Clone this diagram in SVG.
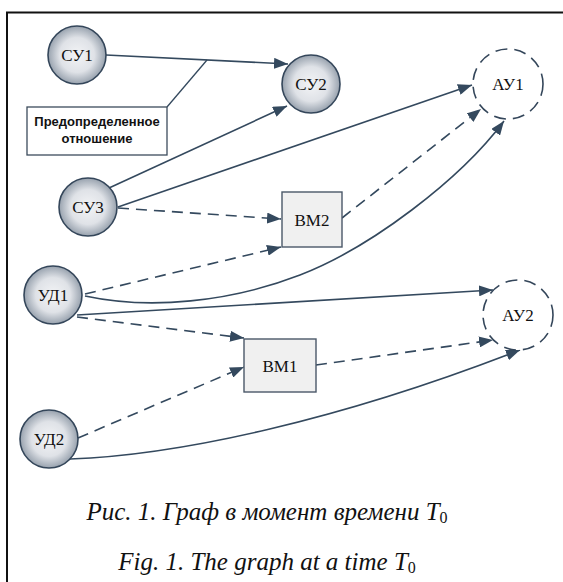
<svg xmlns="http://www.w3.org/2000/svg" width="563" height="582" viewBox="0 0 563 582">
<defs>
  <radialGradient id="g" cx="50%" cy="50%" r="50%">
    <stop offset="0" stop-color="#f3f4f6"/>
    <stop offset="0.6" stop-color="#dfe2e7"/>
    <stop offset="1" stop-color="#98a2ae"/>
  </radialGradient>
  <marker id="ah" markerUnits="userSpaceOnUse" markerWidth="14" markerHeight="11" refX="14" refY="5.5" orient="auto">
    <path d="M0,0 L14,5.5 L0,11 z" fill="#34495e"/>
  </marker>
</defs>
<style>
  .s { fill: url(#g); stroke: #34465a; stroke-width: 1.6; }
  .d { fill: #ffffff; stroke: #34465a; stroke-width: 1.6; stroke-dasharray: 12 7; }
  .r { fill: #f0f0f0; stroke: #4a5868; stroke-width: 1.4; }
  .t { font-family: 'Liberation Serif', 'Times New Roman', 'DejaVu Serif', serif; font-size: 17px; fill: #111; text-anchor: middle; }
  .e { fill: none; stroke: #34495e; stroke-width: 1.6; marker-end: url(#ah); }
  .ed { fill: none; stroke: #34495e; stroke-width: 1.6; stroke-dasharray: 11 7; marker-end: url(#ah); }
  .cap { font-family: 'Liberation Serif', 'Times New Roman', 'DejaVu Serif', serif; font-style: italic; font-size: 25px; fill: #111; text-anchor: middle; }
  .sub { font-style: normal; font-size: 16px; }
  .lb { font-family: 'Liberation Sans', Arial, sans-serif; font-size: 13px; font-weight: bold; fill: #111; text-anchor: middle; }
</style>
<rect width="563" height="582" fill="#ffffff"/>
<path d="M7,582 L7,12.5 L563,12.5" fill="none" stroke="#111" stroke-width="2"/>

<g id="connectors">
  <path class="e" d="M106,55 L288,64"/>
  <path class="e" d="M109,188 L287,106"/>
  <path class="e" d="M118,207 L472,85"/>
  <path class="ed" d="M118,208 L281,219"/>
  <path class="ed" d="M85,294 L281,247"/>
  <path class="e" d="M85,296 C150,310 230,302 300,275 S460,180 504,121"/>
  <path class="ed" d="M342,218 L481,109"/>
  <path class="e" d="M77,315 L493,290"/>
  <path class="ed" d="M77,317 L244,338"/>
  <path class="ed" d="M78,438 L244,367"/>
  <path class="ed" d="M316,365 L493,340"/>
  <path class="e" d="M70,459 C180,455 340,420 520,350"/>
  <path d="M167,107 L207,60" fill="none" stroke="#34495e" stroke-width="1.3"/>
</g>

<g id="label">
  <rect x="27" y="107" width="140" height="48" fill="#ffffff" stroke="#3c4c5c" stroke-width="1.3"/>
  <text class="lb" x="97" y="126">Предопределенное</text>
  <text class="lb" x="97" y="143">отношение</text>
</g>

<g id="SU1"><circle class="s" cx="77" cy="55" r="29"/><text class="t" x="77" y="61">СУ1</text></g>
<g id="SU2"><circle class="s" cx="311" cy="84" r="29"/><text class="t" x="311" y="90">СУ2</text></g>
<g id="SU3"><circle class="s" cx="88" cy="207" r="29"/><text class="t" x="88" y="213">СУ3</text></g>
<g id="UD1"><circle class="s" cx="53" cy="295" r="29"/><text class="t" x="53" y="301">УД1</text></g>
<g id="UD2"><circle class="s" cx="49" cy="439" r="29"/><text class="t" x="49" y="445">УД2</text></g>
<g id="AU1"><circle class="d" cx="508" cy="84" r="35"/><text class="t" x="508" y="90">АУ1</text></g>
<g id="AU2"><circle class="d" cx="518" cy="315" r="35"/><text class="t" x="518" y="321">АУ2</text></g>
<g id="VM2"><rect class="r" x="282" y="192" width="60" height="55"/><text class="t" x="312" y="226">ВМ2</text></g>
<g id="VM1"><rect class="r" x="244" y="339" width="72" height="53"/><text class="t" x="280" y="372">ВМ1</text></g>

<g id="captions">
  <text class="cap" x="267" y="520">Рис. 1. Граф в момент времени <tspan>T</tspan><tspan class="sub" dy="3">0</tspan></text>
  <text class="cap" x="267" y="570">Fig. 1. The graph at a time <tspan>T</tspan><tspan class="sub" dy="3">0</tspan></text>
</g>
</svg>
